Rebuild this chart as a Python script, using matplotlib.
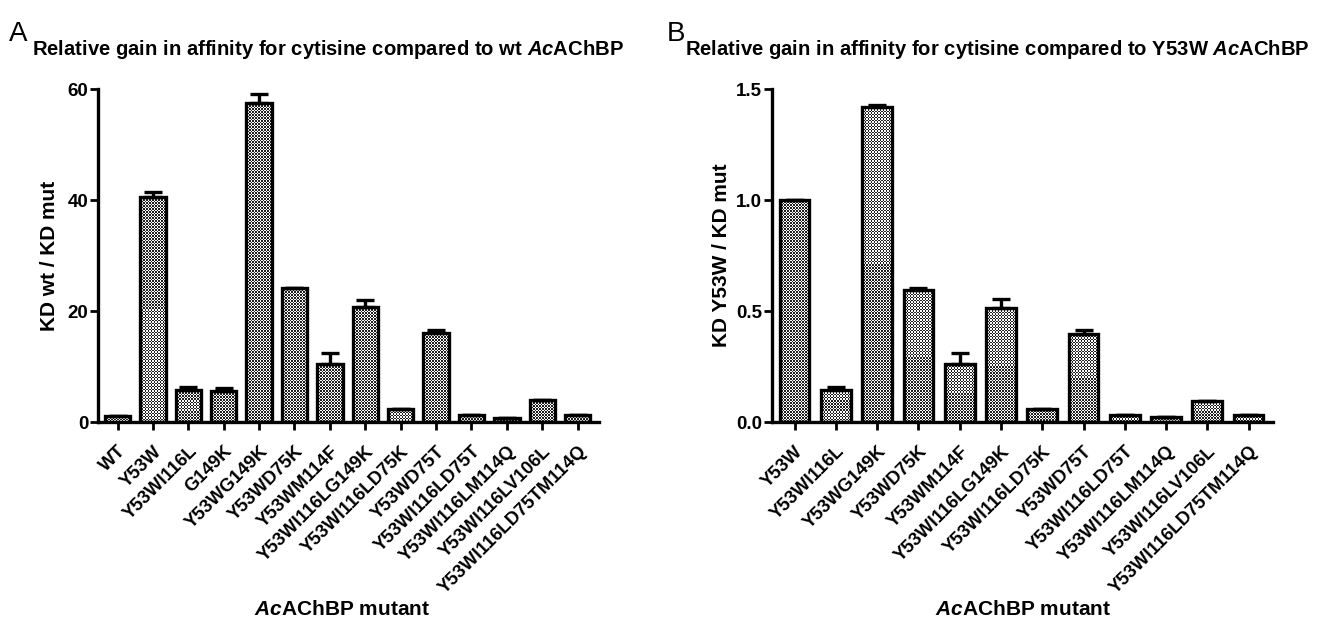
import matplotlib
matplotlib.use("Agg")
import matplotlib.pyplot as plt
import numpy as np

# Panel A data (KD wt / KD mut)
mutants_a = ["WT", "Y53W", "Y53WI116L", "G149K", "Y53WG149K", "Y53WD75K",
             "Y53WM114F", "Y53WI116LG149K", "Y53WI116LD75K", "Y53WD75T",
             "Y53WI116LD75T", "Y53WI116LM114Q", "Y53WI116LV106L",
             "Y53WI116LD75TM114Q"]
values_a = [1.0, 40.6, 5.8, 5.6, 57.5, 24.1, 10.5, 20.8, 2.3, 16.0, 1.2, 0.8, 4.0, 1.2]
errors_a = [0.0, 0.9, 0.5, 0.6, 1.6, 0.0, 2.0, 1.2, 0.0, 0.5, 0.0, 0.0, 0.0, 0.0]

# Panel B data (KD Y53W / KD mut)
mutants_b = ["Y53W", "Y53WI116L", "Y53WG149K", "Y53WD75K", "Y53WM114F",
             "Y53WI116LG149K", "Y53WI116LD75K", "Y53WD75T", "Y53WI116LD75T",
             "Y53WI116LM114Q", "Y53WI116LV106L", "Y53WI116LD75TM114Q"]
values_b = [1.0, 0.145, 1.42, 0.595, 0.26, 0.515, 0.058, 0.395, 0.03, 0.022, 0.095, 0.03]
errors_b = [0.0, 0.011, 0.01, 0.01, 0.052, 0.04, 0.0, 0.018, 0.0, 0.0, 0.0, 0.0]

plt.rcParams["font.family"] = ["Liberation Sans", "DejaVu Sans"]
plt.rcParams["font.weight"] = "bold"
plt.rcParams["mathtext.fontset"] = "custom"
plt.rcParams["mathtext.rm"] = "Liberation Sans:bold"
plt.rcParams["mathtext.bf"] = "Liberation Sans:bold"
plt.rcParams["mathtext.it"] = "Liberation Sans:bold:italic"


def checker_fill(fig, ax, bars, cell=1.5):
    # fine checkerboard texture clipped to every bar
    fig.canvas.draw()
    for b in bars:
        bb = b.get_window_extent()
        nx = max(int(round(bb.width / cell)), 1)
        ny = max(int(round(bb.height / cell)), 1)
        grid = (np.add.outer(np.arange(ny), np.arange(nx)) % 2).astype(float)
        x0, y0 = b.get_x(), b.get_y()
        im = ax.imshow(grid, cmap="gray", vmin=-0.15, vmax=1, interpolation="nearest",
                       extent=[x0, x0 + b.get_width(), y0, y0 + b.get_height()],
                       aspect="auto", zorder=2)
        im.set_clip_path(b)


def draw_panel(ax, names, vals, errs, ylim, yticks, yfmt, ylabel, lpad):
    x = np.arange(len(names))
    lower = np.zeros(len(vals))
    bars = ax.bar(x, vals, width=0.72, facecolor="none", edgecolor="black",
                  linewidth=2.4, zorder=3)
    ax.errorbar(x, vals, yerr=[lower, errs], fmt="none", ecolor="black",
                elinewidth=2.4, capsize=6.5, capthick=2.4, zorder=4)
    ax.set_xlim(-0.55, len(names) - 0.4)
    ax.set_ylim(*ylim)
    ax.set_yticks(yticks)
    ax.set_yticklabels([yfmt.format(t) for t in yticks], fontsize=13.5, fontweight="bold")
    ax.set_xticks(x)
    ax.set_xticklabels(names, rotation=45, ha="right", rotation_mode="anchor",
                       fontsize=13.3, fontweight="bold")
    for s in ["top", "right"]:
        ax.spines[s].set_visible(False)
    for s in ["left", "bottom"]:
        ax.spines[s].set_linewidth(2.4)
    ax.tick_params(axis="both", direction="out", length=6, width=2)
    ax.tick_params(axis="x", pad=9)
    ax.tick_params(axis="y", pad=1)
    ax.set_ylabel(ylabel, fontsize=15, fontweight="bold", labelpad=lpad)
    return bars


fig = plt.figure(figsize=(13.25, 6.23), dpi=100)
ax1 = fig.add_axes([0.074, 0.3226, 0.378, 0.5345])
ax2 = fig.add_axes([0.5826, 0.3226, 0.3784, 0.5345])

bars1 = draw_panel(ax1, mutants_a, values_a, errors_a, (0, 60), [0, 20, 40, 60], "{:.0f}",
                   "KD wt / KD mut", 6)
bars2 = draw_panel(ax2, mutants_b, values_b, errors_b, (0, 1.5), [0.0, 0.5, 1.0, 1.5],
                   "{:.1f}", "KD Y53W / KD mut", 4)

fig.text(0.007, 0.945, "A", fontsize=20, fontweight="normal", va="center", ha="left")
fig.text(0.503, 0.945, "B", fontsize=20, fontweight="normal", va="center", ha="left")
fig.text(0.024, 0.92, r"Relative gain in affinity for cytisine compared to wt $\it{Ac}$AChBP",
         fontsize=14.6, fontweight="bold", va="center", ha="left")
fig.text(0.517, 0.92, r"Relative gain in affinity for cytisine compared to Y53W $\it{Ac}$AChBP",
         fontsize=14.6, fontweight="bold", va="center", ha="left")
fig.text(0.258, 0.022, r"$\it{Ac}$AChBP mutant", fontsize=15, fontweight="bold",
         va="center", ha="center")
fig.text(0.772, 0.022, r"$\it{Ac}$AChBP mutant", fontsize=15, fontweight="bold",
         va="center", ha="center")

checker_fill(fig, ax1, bars1)
checker_fill(fig, ax2, bars2)
ax1.set_xlim(-0.55, len(mutants_a) - 0.4)
ax1.set_ylim(0, 60)
ax2.set_xlim(-0.55, len(mutants_b) - 0.4)
ax2.set_ylim(0, 1.5)

fig.savefig("out.png", dpi=100)
